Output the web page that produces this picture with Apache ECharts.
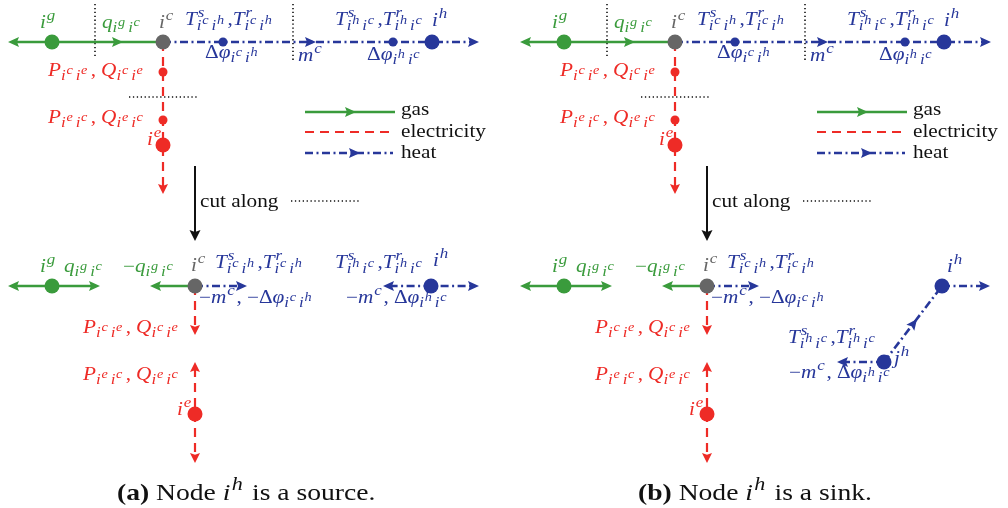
<!DOCTYPE html>
<html><head><meta charset="utf-8">
<script src="https://cdn.jsdelivr.net/npm/echarts@6/dist/echarts.min.js"></script>
<style>html,body{margin:0;padding:0;background:#fff}#c{width:1008px;height:508px}</style>
</head><body><div id="c"></div>
<script>
// ---------------- DATA (diagram coordinates, panel (a) frame) ----------------
const PANEL_OFFSETS = [0, 512];           // panel (a), panel (b)

// nodes shared by both panels: [x, y, carrier, class]
const sharedNodes = [
  [52, 42, 'gas', 'major'], [163, 42, 'hub', 'major'],
  [223, 42, 'heat', 'minor'], [393, 42, 'heat', 'minor'], [432, 42, 'heat', 'major'],
  [163, 72, 'elec', 'minor'], [163, 120, 'elec', 'minor'], [163, 145, 'elec', 'major'],
  [52, 286, 'gas', 'major'], [195, 286, 'hub', 'major'], [195, 414, 'elec', 'major']
];
// edges shared by both panels: [x1, y1, x2, y2, carrier]
const sharedEdges = [
  [8, 42, 163, 42, 'gas'], [163, 42, 479, 42, 'heat'], [163, 42, 163, 194, 'elec'],
  [195, 166, 195, 241, 'ink'],
  [305, 112, 395, 112, 'gas'], [305, 132, 395, 132, 'elec'], [305, 153, 393, 153, 'heat'],
  [8, 286, 100, 286, 'gas'], [195, 286, 150, 286, 'gas'], [195, 286, 247, 286, 'heat'],
  [195, 286, 195, 335, 'elec'], [195, 362, 195, 463, 'elec']
];
// arrow heads shared: [tipX, tipY, dirX, dirY, carrier]
const sharedArrows = [
  [8, 42, -1, 0, 'gas'], [123, 42, 1, 0, 'gas'], [316, 42, 1, 0, 'heat'], [479, 42, 1, 0, 'heat'],
  [163, 194, 0, 1, 'elec'], [195, 241, 0, 1, 'ink'],
  [356, 112, 1, 0, 'gas'], [360, 153, 1, 0, 'heat'],
  [8, 286, -1, 0, 'gas'], [100, 286, 1, 0, 'gas'], [150, 286, -1, 0, 'gas'], [247, 286, 1, 0, 'heat'],
  [195, 335, 0, 1, 'elec'], [195, 362, 0, -1, 'elec'], [195, 463, 0, 1, 'elec']
];
// dotted cut guides: [x1, y1, x2, y2]
const sharedGuides = [[95, 4, 95, 57], [293, 4, 293, 60], [129, 97, 198, 97], [291, 201, 360, 201]];
// labels shared: [x, baseline, carrier, text]  ($...$ = math)
const sharedLabels = [
  [40, 28, 'gas', '$i^g$'], [102, 28, 'gas', '$q_{i^g i^c}$'], [159, 28, 'hub', '$i^c$'],
  [185, 25, 'heat', '$T^s_{i^c i^h}$,$T^r_{i^c i^h}$'], [205, 58, 'heat', '$Δφ_{i^c i^h}$'],
  [298, 61, 'heat', '$m^c$'], [335, 25, 'heat', '$T^s_{i^h i^c}$,$T^r_{i^h i^c}$'],
  [432, 26, 'heat', '$i^h$'], [367, 60, 'heat', '$Δφ_{i^h i^c}$'],
  [48, 76, 'elec', '$P_{i^c i^e},~Q_{i^c i^e}$'], [48, 123, 'elec', '$P_{i^e i^c},~Q_{i^e i^c}$'],
  [147, 145, 'elec', '$i^e$'],
  [200, 207, 'ink', 'cut along'],
  [401, 115, 'ink', 'gas'], [401, 137, 'ink', 'electricity'], [401, 158, 'ink', 'heat'],
  [40, 272, 'gas', '$i^g$'], [64, 272, 'gas', '$q_{i^g i^c}$'], [123, 272, 'gas', '$-q_{i^g i^c}$'],
  [191, 271, 'hub', '$i^c$'], [215, 268, 'heat', '$T^s_{i^c i^h}$,$T^r_{i^c i^h}$'],
  [199, 303, 'heat', '$-m^c,~-Δφ_{i^c i^h}$'],
  [83, 333, 'elec', '$P_{i^c i^e},~Q_{i^c i^e}$'], [83, 380, 'elec', '$P_{i^e i^c},~Q_{i^e i^c}$'],
  [177, 415, 'elec', '$i^e$']
];
// panel (a): heat node i^h is a source (absolute coordinates)
const sourceNodes = [[431, 286, 'heat', 'major']];
const sourceEdges = [[383, 286, 479, 286, 'heat']];
const sourceArrows = [[383, 286, -1, 0, 'heat'], [479, 286, 1, 0, 'heat']];
const sourceLabels = [
  [335, 268, 'heat', '$T^s_{i^h i^c}$,$T^r_{i^h i^c}$'], [433, 266, 'heat', '$i^h$'],
  [346, 303, 'heat', '$-m^c,~Δφ_{i^h i^c}$']
];
// panel (b): heat node i^h is a sink (absolute coordinates)
const sinkNodes = [[942, 286, 'heat', 'major'], [884, 362, 'heat', 'major']];
const sinkEdges = [[942, 286, 990, 286, 'heat'], [884, 362, 942, 286, 'heat'], [884, 362, 837, 362, 'heat']];
const sinkArrows = [[990, 286, 1, 0, 'heat'], [917, 319, 58, -76, 'heat'], [837, 362, -1, 0, 'heat']];
const sinkLabels = [
  [788, 343, 'heat', '$T^s_{i^h i^c}$,$T^r_{i^h i^c}$'], [894, 364, 'heat', '$j^h$'],
  [789, 378, 'heat', '$-m^c,~Δφ_{i^h i^c}$'], [947, 272, 'heat', '$i^h$']
];
// captions: [x, baseline, text]
const captions = [[117, 500, '**(a)** Node $i^h$ is a source.'], [638, 500, '**(b)** Node $i^h$ is a sink.']];

// ---------------- STYLE ----------------
const COLOR = { gas: '#3a9b3c', elec: '#ee2b26', heat: '#27379a', hub: '#666666', ink: '#111111' };
const LINE = {
  gas: { w: 2.6, dash: null }, elec: { w: 2.2, dash: [9, 6] },
  heat: { w: 2.6, dash: [8, 3.5, 2, 3.5] }, ink: { w: 2, dash: null }
};
const ARROW = { gas: [11, 5], heat: [11, 5], elec: [10, 5], ink: [11, 5.5] };
const NODE_SIZE = { major: 15, minor: 9 };
const FS = 18, CAP_FS = 24, SX = 1.18, CAP_SX = 1.15;
const FAMILY = '"Liberation Serif"';

// ---------------- assemble ----------------
function shiftPts(arr, dx, idxs) { return arr.map(a => a.map((v, i) => idxs.includes(i) ? v + dx : v)); }
let NODES = [], EDGES = [], ARROWS = [], GUIDES = [], LABELS = [];
PANEL_OFFSETS.forEach(dx => {
  NODES = NODES.concat(shiftPts(sharedNodes, dx, [0]));
  EDGES = EDGES.concat(shiftPts(sharedEdges, dx, [0, 2]));
  ARROWS = ARROWS.concat(shiftPts(sharedArrows, dx, [0]));
  GUIDES = GUIDES.concat(shiftPts(sharedGuides, dx, [0, 2]));
  LABELS = LABELS.concat(shiftPts(sharedLabels, dx, [0]));
});
NODES = NODES.concat(sourceNodes, sinkNodes);
EDGES = EDGES.concat(sourceEdges, sinkEdges);
ARROWS = ARROWS.concat(sourceArrows, sinkArrows);
LABELS = LABELS.concat(sourceLabels, sinkLabels);

// ---------------- text layout (mini TeX) ----------------
const mctx = document.createElement('canvas').getContext('2d');
function fontOf(style, size) { return style + ' ' + size.toFixed(2) + 'px ' + FAMILY; }
function measure(t, f) { mctx.font = f; return mctx.measureText(t).width; }
const midCache = {};
function midOff(f, size) {
  if (midCache[f] !== undefined) return midCache[f];
  mctx.font = f; mctx.textBaseline = 'alphabetic';
  const a = mctx.measureText('x').fontBoundingBoxAscent;
  mctx.textBaseline = 'middle';
  const b = mctx.measureText('x').fontBoundingBoxAscent;
  mctx.textBaseline = 'alphabetic';
  let v = (typeof a === 'number' && typeof b === 'number' && isFinite(a - b)) ? a - b : 0.31 * size;
  midCache[f] = v; return v;
}
function parseMath(s) {
  let i = 0;
  function group() {
    const out = [];
    while (i < s.length && s[i] !== '}') {
      const c = s[i];
      if (c === ' ') { i++; continue; }
      if (c === '^' || c === '_') {
        i++; let arg;
        if (s[i] === '{') { i++; arg = group(); i++; } else { arg = [{ ch: s[i] }]; i++; }
        const last = out[out.length - 1];
        if (c === '^') last.sup = arg; else last.sub = arg;
        continue;
      }
      if (c === '{') { i++; out.push(...group()); i++; continue; }
      out.push({ ch: c === '-' ? '\u2212' : c }); i++;
    }
    return out;
  }
  return group();
}
function layoutMath(atoms, size, level, x, y, out, sx) {
  let cx = x;
  for (const a of atoms) {
    let w;
    const ital = /[A-Za-zφ]/.test(a.ch);
    if (a.ch === '~') w = size * 0.28;
    else {
      const f = fontOf(ital ? 'italic' : 'normal', size);
      w = measure(a.ch, f) * sx;
      out.push({ t: a.ch, x: cx, y, f, size });
    }
    let adv = w;
    if (level > 0) adv += size * 0.1;
    if (a.sup || a.sub) {
      const ss = size * (level === 0 ? 0.8 : 0.84);
      let ws = 0, wb = 0;
      const kern = ital ? size * 0.05 : 0;
      if (a.sup) ws = kern + layoutMath(a.sup, ss, level + 1, cx + w + kern, y - size * (level === 0 ? 0.42 : 0.40), out, sx);
      if (a.sub) wb = layoutMath(a.sub, ss, level + 1, cx + w, y + size * (a.sup ? 0.29 : 0.22), out, sx);
      adv += Math.max(ws, wb) + size * 0.02;
    }
    cx += adv;
  }
  return cx - x;
}
function layoutLabel(str, size, sx) {
  const out = []; let x = 0;
  str.split('$').forEach((p, idx) => {
    if (idx % 2 === 1) x += layoutMath(parseMath(p), size, 0, x, 0, out, sx);
    else p.split('**').forEach((q, j) => {
      if (!q) return;
      const f = fontOf(j % 2 ? 'bold' : 'normal', size);
      out.push({ t: q, x, y: 0, f, size }); x += measure(q, f) * sx;
    });
  });
  return out;
}

// ---------------- chart ----------------
const chart = echarts.init(document.getElementById('c'), null, { renderer: 'canvas' });
function textGroup(p, runs, fill, sx) {
  return {
    type: 'group', x: p[0], y: p[1], silent: true,
    children: runs.map(r => ({
      type: 'text', x: r.x, y: r.y - midOff(r.f, r.size), scaleX: sx, silent: true,
      style: { text: r.t, font: r.f, fill: fill, align: 'left', verticalAlign: 'middle' }
    }))
  };
}
function arrowAt(tip) { return ARROWS.some(a => Math.abs(a[0] - tip[0]) < 0.5 && Math.abs(a[1] - tip[1]) < 0.5); }

const option = {
  animation: false,
  backgroundColor: '#ffffff',
  grid: { left: 0, right: 0, top: 0, bottom: 0 },
  xAxis: { type: 'value', min: 0, max: 1008, show: false },
  yAxis: { type: 'value', min: 0, max: 508, inverse: true, show: false },
  series: [
    { // dotted guides
      type: 'custom', z: 1, silent: true, clip: false,
      data: GUIDES.map(g => g.slice(0, 4)), encode: { x: [0, 2], y: [1, 3] },
      renderItem(params, api) {
        const p1 = api.coord([api.value(0), api.value(1)]), p2 = api.coord([api.value(2), api.value(3)]);
        return { type: 'line', shape: { x1: p1[0], y1: p1[1], x2: p2[0], y2: p2[1] },
          style: { stroke: '#111', lineWidth: 1.6, lineDash: [1.3, 2.6] } };
      }
    },
    { // flow edges
      type: 'custom', z: 2, silent: true, clip: false,
      data: EDGES.map(e => e.slice(0, 4)), encode: { x: [0, 2], y: [1, 3] },
      renderItem(params, api) {
        const e = EDGES[params.dataIndex];
        let a = [e[0], e[1]], b = [e[2], e[3]];
        const L = Math.hypot(b[0] - a[0], b[1] - a[1]);
        const ux = (b[0] - a[0]) / L, uy = (b[1] - a[1]) / L;
        const cut = ARROW[e[4]][0] * 0.6;
        if (arrowAt(b)) b = [b[0] - ux * cut, b[1] - uy * cut];
        if (arrowAt(a)) a = [a[0] + ux * cut, a[1] + uy * cut];
        const p1 = api.coord(a), p2 = api.coord(b);
        const st = LINE[e[4]];
        return { type: 'line', shape: { x1: p1[0], y1: p1[1], x2: p2[0], y2: p2[1] },
          style: { stroke: COLOR[e[4]], lineWidth: st.w, lineDash: st.dash, lineCap: 'butt' } };
      }
    },
    { // arrow heads
      type: 'custom', z: 3, silent: true, clip: false,
      data: ARROWS.map(a => a.slice(0, 2)), encode: { x: 0, y: 1 },
      renderItem(params, api) {
        const a = ARROWS[params.dataIndex];
        const p = api.coord([a[0], a[1]]);
        const n = Math.hypot(a[2], a[3]), ux = a[2] / n, uy = a[3] / n;
        const [len, hw] = ARROW[a[4]];
        const bx = p[0] - ux * len, by = p[1] - uy * len;
        const pts = [[p[0], p[1]], [bx - uy * hw, by + ux * hw], [p[0] - ux * len * 0.82, p[1] - uy * len * 0.82], [bx + uy * hw, by - ux * hw]];
        return { type: 'polygon', shape: { points: pts }, style: { fill: COLOR[a[4]] } };
      }
    },
    { // nodes
      type: 'scatter', z: 4, silent: true, symbol: 'circle',
      data: NODES.map(n => ({ value: [n[0], n[1]], symbolSize: NODE_SIZE[n[3]], itemStyle: { color: COLOR[n[2]], opacity: 1 } })),
      itemStyle: { opacity: 1 }
    },
    { // labels
      type: 'custom', z: 5, silent: true, clip: false,
      data: LABELS.map(l => l.slice(0, 2)), encode: { x: 0, y: 1 },
      renderItem(params, api) {
        const l = LABELS[params.dataIndex];
        return textGroup(api.coord([l[0], l[1]]), layoutLabel(l[3], FS, SX), COLOR[l[2]], SX);
      }
    },
    { // captions
      type: 'custom', z: 5, silent: true, clip: false,
      data: captions.map(c => c.slice(0, 2)), encode: { x: 0, y: 1 },
      renderItem(params, api) {
        const c = captions[params.dataIndex];
        return textGroup(api.coord([c[0], c[1]]), layoutLabel(c[2], CAP_FS, CAP_SX), '#111', CAP_SX);
      }
    }
  ]
};
chart.setOption(option);
</script>
</body></html>
